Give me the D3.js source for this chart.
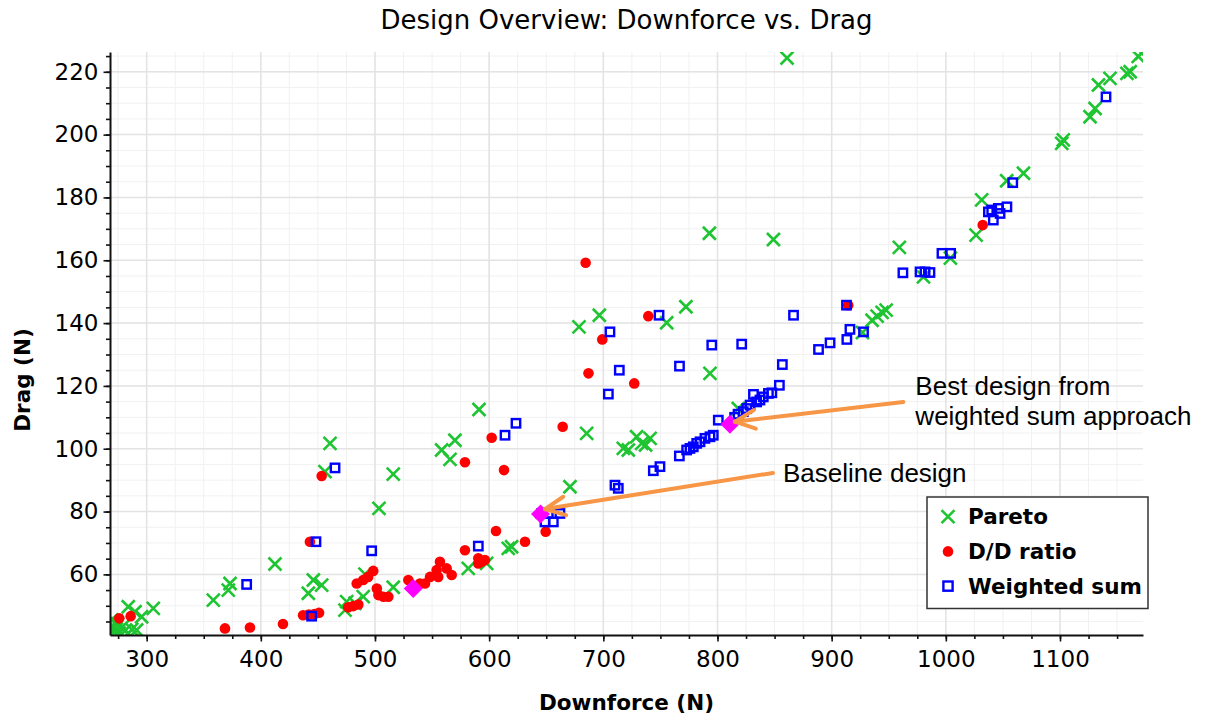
<!DOCTYPE html>
<html>
<head>
<meta charset="utf-8">
<script src="https://cdnjs.cloudflare.com/ajax/libs/d3/7.8.5/d3.min.js"></script>
<style>
body { margin: 0; background: #fff; }
text { font-family: "DejaVu Sans", sans-serif; fill: #000; }
.grid-minor line { stroke: #f1f1f1; stroke-width: 1; }
.grid-major line { stroke: #e3e3e3; stroke-width: 1.5; }
.axis path, .axis line { stroke: #111; }
.axis text { font-size: 23px; }
</style>
</head>
<body>
<div id="chart"></div>
<script>
// [downforce, drag]
var pareto = [
  [1171.6,225.9],[1168.5,224.9],[1161.5,220],[1158.6,219.5],[1143.8,217.9],[1133.7,215.8],
  [1130.7,208.3],[1126.3,205.7],[1102.9,198.3],[1101.5,197.2],[1068,187.7],[1053.3,185.3],
  [1031.4,179.2],[1026.5,168],[1004,160.7],[980.4,154.7],[959.3,164.1],[947.7,144.1],
  [944.2,143.4],[939.8,142.2],[935.4,140.9],[927,137],[860.9,224.4],[849,166.6],[792.9,168.6],
  [772.3,145.2],[755.5,140.1],[696.5,142.5],[678.7,138.8],[793.4,124],[818.2,112.8],
  [741,103.3],[737,101.2],[733.6,101.7],[729.2,103.8],[721.9,99.6],[717.5,100.1],[685.4,104.9],
  [670.8,87.9],[616.7,68.3],[619.7,68.8],[597.8,63.5],[581.7,61.9],[591.1,112.5],[570,102.7],
  [558.4,99.6],[565.7,96.6],[516,91.9],[503.5,81],[460.6,101.7],[456.2,92.7],[516,55.9],
  [491.2,60.1],[489.7,52.9],[482.5,50.8],[475.2,51.3],[473.7,48.6],[453.3,56.6],[446,58.2],
  [441.6,54],[412.4,63.3],[373,57.1],[371.5,55],[358.4,51.8],[305.8,49.2],[295.6,46.5],
  [289.8,48.1],[283.9,49.7],[291.2,42.3],[269.3,45.5],[268.5,43],[271,41.8],[273.5,42.6],
  [276,41.3],[278.5,43.2],[281,42],[284,41.2],[287,42.5],[270,41],[274.5,44.3]
];
var ddRatio = [
  [1032.3,171.2],[914.5,145.7],[739.4,142.2],[699.1,134.8],[684.5,159.2],[687,124],
  [727.1,120.8],[664.4,107],[602.2,103.5],[578.8,95.7],[613,93.2],[453.3,91.3],[443,70.4],
  [606,73.8],[631.4,70.4],[649.5,73.6],[644,79],[578.8,67.7],[590.5,65.1],[593.4,64],
  [596.3,64.6],[590.5,63.5],[556.9,64],[554,61.4],[562.8,61.9],[567.2,59.8],[548.2,59.2],
  [543.8,57.1],[555.4,59.2],[529.2,58.2],[539.4,57.1],[498.5,61.1],[494,59.2],[489.7,58.2],
  [484,57.1],[501.6,55.5],[503,53.4],[507.4,52.9],[511.7,52.9],[476.6,49.5],[481,49.9],
  [485.4,50.4],[437,47],[442,47.2],[447,47.4],[451,47.8],[419.4,44.2],[390.5,43.1],
  [368.6,42.8],[276,46],[286,46.7],[535,55.8]
];
var weightedSum = [
  [1140.3,212],[1058.6,184.7],[1053.5,177],[1046,176.5],[1047.5,174.9],[1040.2,176],
  [1037.3,175.4],[1041.6,172.8],[996.6,162.2],[1004.2,162.2],[962.4,156],[977.4,156.3],
  [981.8,156.3],[986.1,156.1],[913,145.7],[916,138],[927.9,137.2],[913.3,134.8],[898.6,133.7],
  [888.5,131.6],[866.6,142.5],[748.8,142.5],[705.8,137.2],[795,133],[821.2,133.3],[766.7,126.3],
  [856.8,126.8],[854.2,120.2],[714,125],[704.4,117.4],[831.5,117.3],[844.6,117.6],[847.6,117.8],
  [840.1,116.5],[837.2,115.5],[834.3,114.9],[828.5,113.9],[825.6,112.8],[822.6,111.8],
  [818,111],[815,110],[800.7,109.1],[796.3,104.3],[793.4,103.8],[789,103.3],[784.7,102.2],
  [781.8,101.7],[778.8,100.6],[775.9,100.1],[773,99.6],[766.6,97.7],[749.6,94.3],[743.8,93],
  [710.2,88.4],[713.1,87.4],[613.9,104.3],[623.5,108.1],[465,93.9],[448.3,70.4],[497.1,67.5],
  [590.5,69],[387.6,56.8],[444.5,46.7],[646,79.4],[651.8,79.4],[662,79.4],[648.9,76.7],
  [656.2,76.7]
];
var highlighted = [[810.9,107.8],[645,79.2],[533.5,55.5]];

var xTicks = [300, 400, 500, 600, 700, 800, 900, 1000, 1100];
var yTicks = [60, 80, 100, 120, 140, 160, 180, 200, 220];
var xMinor = d3.range(275, 1175, 25);
var yMinor = d3.range(45, 230, 5);

var annotations = [
  {lines: ["Best design from", "weighted sum approach"], from: [962.8, 114.9], to: [815.3, 108.6]},
  {lines: ["Baseline design"], from: [848.6, 92.3], to: [648.9, 80.8]}
];

var seriesNames = ["Pareto", "D/D ratio", "Weighted sum"];

var svg = d3.select("#chart").append("svg")
    .attr("width", 1207)
    .attr("height", 717),
    margin = {top: 52, right: 64, bottom: 82, left: 110},
    width = 1207 - margin.left - margin.right,
    height = 717 - margin.top - margin.bottom;

var x = d3.scaleLinear().domain([267.9, 1172.7]).range([0, width]);
var y = d3.scaleLinear().domain([40.7, 226.3]).range([height, 0]);

var g = svg.append("g").attr("transform", "translate(" + margin.left + "," + margin.top + ")");

// grid
g.append("g").attr("class", "grid-minor")
  .selectAll("line.v").data(xMinor).enter().append("line")
    .attr("x1", x).attr("x2", x).attr("y1", 0).attr("y2", height);
g.select(".grid-minor")
  .selectAll("line.h").data(yMinor).enter().append("line")
    .attr("y1", y).attr("y2", y).attr("x1", 0).attr("x2", width);
g.append("g").attr("class", "grid-major")
  .selectAll("line.v").data(xTicks).enter().append("line")
    .attr("x1", x).attr("x2", x).attr("y1", 0).attr("y2", height);
g.select(".grid-major")
  .selectAll("line.h").data(yTicks).enter().append("line")
    .attr("y1", y).attr("y2", y).attr("x1", 0).attr("x2", width);

// marks
svg.append("clipPath").attr("id", "plot-clip")
  .append("rect").attr("width", width).attr("height", height);

var marks = g.append("g").attr("clip-path", "url(#plot-clip)");

function tr(d) { return "translate(" + x(d[0]) + "," + y(d[1]) + ")"; }

var crossPath = "M-6.5,-6.5L6.5,6.5M-6.5,6.5L6.5,-6.5";

marks.append("g").selectAll("path").data(pareto).enter().append("path")
    .attr("transform", tr)
    .attr("d", crossPath)
    .attr("stroke", "#1ec431")
    .attr("stroke-width", 2.6)
    .attr("fill", "none");

marks.append("g").selectAll("circle").data(ddRatio).enter().append("circle")
    .attr("cx", function(d) { return x(d[0]); })
    .attr("cy", function(d) { return y(d[1]); })
    .attr("r", 5.3)
    .attr("fill", "#ff0000");

marks.append("g").selectAll("rect").data(weightedSum).enter().append("rect")
    .attr("x", function(d) { return x(d[0]) - 4.2; })
    .attr("y", function(d) { return y(d[1]) - 4.2; })
    .attr("width", 8.4)
    .attr("height", 8.4)
    .attr("fill", "none")
    .attr("stroke", "#0000ff")
    .attr("stroke-width", 2.4);

marks.append("g").selectAll("path").data(highlighted).enter().append("path")
    .attr("transform", tr)
    .attr("d", "M0,-9.5L9.5,0L0,9.5L-9.5,0Z")
    .attr("fill", "#ff00ff");

// axes
g.append("g")
    .attr("class", "axis")
    .attr("transform", "translate(0," + height + ")")
    .call(d3.axisBottom(x).tickValues(xMinor).tickSize(4).tickSizeOuter(0).tickFormat(""))
    .call(function(a) { a.select(".domain").remove(); });
g.append("g")
    .attr("class", "axis")
    .attr("transform", "translate(0," + height + ")")
    .call(d3.axisBottom(x).tickValues(xTicks).tickSize(6.5).tickSizeOuter(0).tickPadding(9).tickFormat(d3.format("d")))
    .call(function(a) { a.select(".domain").attr("stroke", "#444").attr("stroke-width", 2); });

g.append("g")
    .attr("class", "axis")
    .call(d3.axisLeft(y).tickValues(yMinor).tickSize(4).tickSizeOuter(0).tickFormat(""))
    .call(function(a) { a.select(".domain").remove(); });
g.append("g")
    .attr("class", "axis")
    .call(d3.axisLeft(y).tickValues(yTicks).tickSize(6.5).tickSizeOuter(0).tickPadding(5).tickFormat(d3.format("d")))
    .call(function(a) { a.select(".domain").attr("stroke", "#000").attr("stroke-width", 2); });

g.selectAll(".axis .tick line").attr("stroke-width", 1.6);

// titles
svg.append("text")
    .attr("x", margin.left + width / 2)
    .attr("y", 29)
    .attr("text-anchor", "middle")
    .style("font-size", "26px")
    .text("Design Overview: Downforce vs. Drag");

svg.append("text")
    .attr("x", margin.left + width / 2)
    .attr("y", 710)
    .attr("text-anchor", "middle")
    .style("font-size", "21.5px")
    .style("font-weight", "bold")
    .text("Downforce (N)");

svg.append("text")
    .attr("transform", "rotate(-90)")
    .attr("x", -380)
    .attr("y", 30)
    .attr("text-anchor", "middle")
    .style("font-size", "21.5px")
    .style("font-weight", "bold")
    .text("Drag (N)");

// annotations
var orange = "#f79646";
annotations.forEach(function(a) {
  var x0 = x(a.from[0]), y0 = y(a.from[1]), x1 = x(a.to[0]), y1 = y(a.to[1]);
  var ang = Math.atan2(y0 - y1, x0 - x1), len = 22, spread = 25 * Math.PI / 180;
  var ag = g.append("g")
      .attr("stroke", orange)
      .attr("stroke-width", 4)
      .attr("stroke-linecap", "round")
      .attr("fill", "none");
  ag.append("line").attr("x1", x0).attr("y1", y0).attr("x2", x1).attr("y2", y1);
  [-spread, spread].forEach(function(s) {
    ag.append("line")
        .attr("x1", x1).attr("y1", y1)
        .attr("x2", x1 + len * Math.cos(ang + s))
        .attr("y2", y1 + len * Math.sin(ang + s));
  });
  var tx = a.lines.length > 1 ? x0 + 12 : x0 + 10;
  var ty = a.lines.length > 1 ? y0 - 7 : y0 + 9;
  var t = g.append("text")
      .attr("x", tx)
      .attr("y", ty)
      .style("font-family", "'Liberation Sans', Arial, sans-serif")
      .style("font-size", "26px");
  a.lines.forEach(function(l, i) {
    t.append("tspan").attr("x", tx).attr("dy", i === 0 ? 0 : 30).text(l);
  });
});

// legend
var legend = svg.append("g").attr("transform", "translate(927,497)");
legend.append("rect")
    .attr("width", 221)
    .attr("height", 111.5)
    .attr("fill", "#fff")
    .attr("stroke", "#333")
    .attr("stroke-width", 1.5);

var item = legend.selectAll("g.item")
    .data(seriesNames)
    .enter().append("g")
      .attr("class", "item")
      .attr("transform", function(d, i) { return "translate(21," + (19.7 + i * 34.7) + ")"; });

item.each(function(d, i) {
  var s = d3.select(this);
  if (i === 0) s.append("path").attr("d", crossPath).attr("stroke", "#1ec431").attr("stroke-width", 2.6).attr("fill", "none");
  if (i === 1) s.append("circle").attr("r", 5.3).attr("fill", "#ff0000");
  if (i === 2) s.append("rect").attr("x", -4.6).attr("y", -4.6).attr("width", 9.2).attr("height", 9.2)
      .attr("fill", "none").attr("stroke", "#0000ff").attr("stroke-width", 2.4);
});

item.append("text")
    .attr("x", 20)
    .attr("dy", "0.36em")
    .style("font-size", "21.5px")
    .style("font-weight", "bold")
    .text(function(d) { return d; });
</script>
</body>
</html>
